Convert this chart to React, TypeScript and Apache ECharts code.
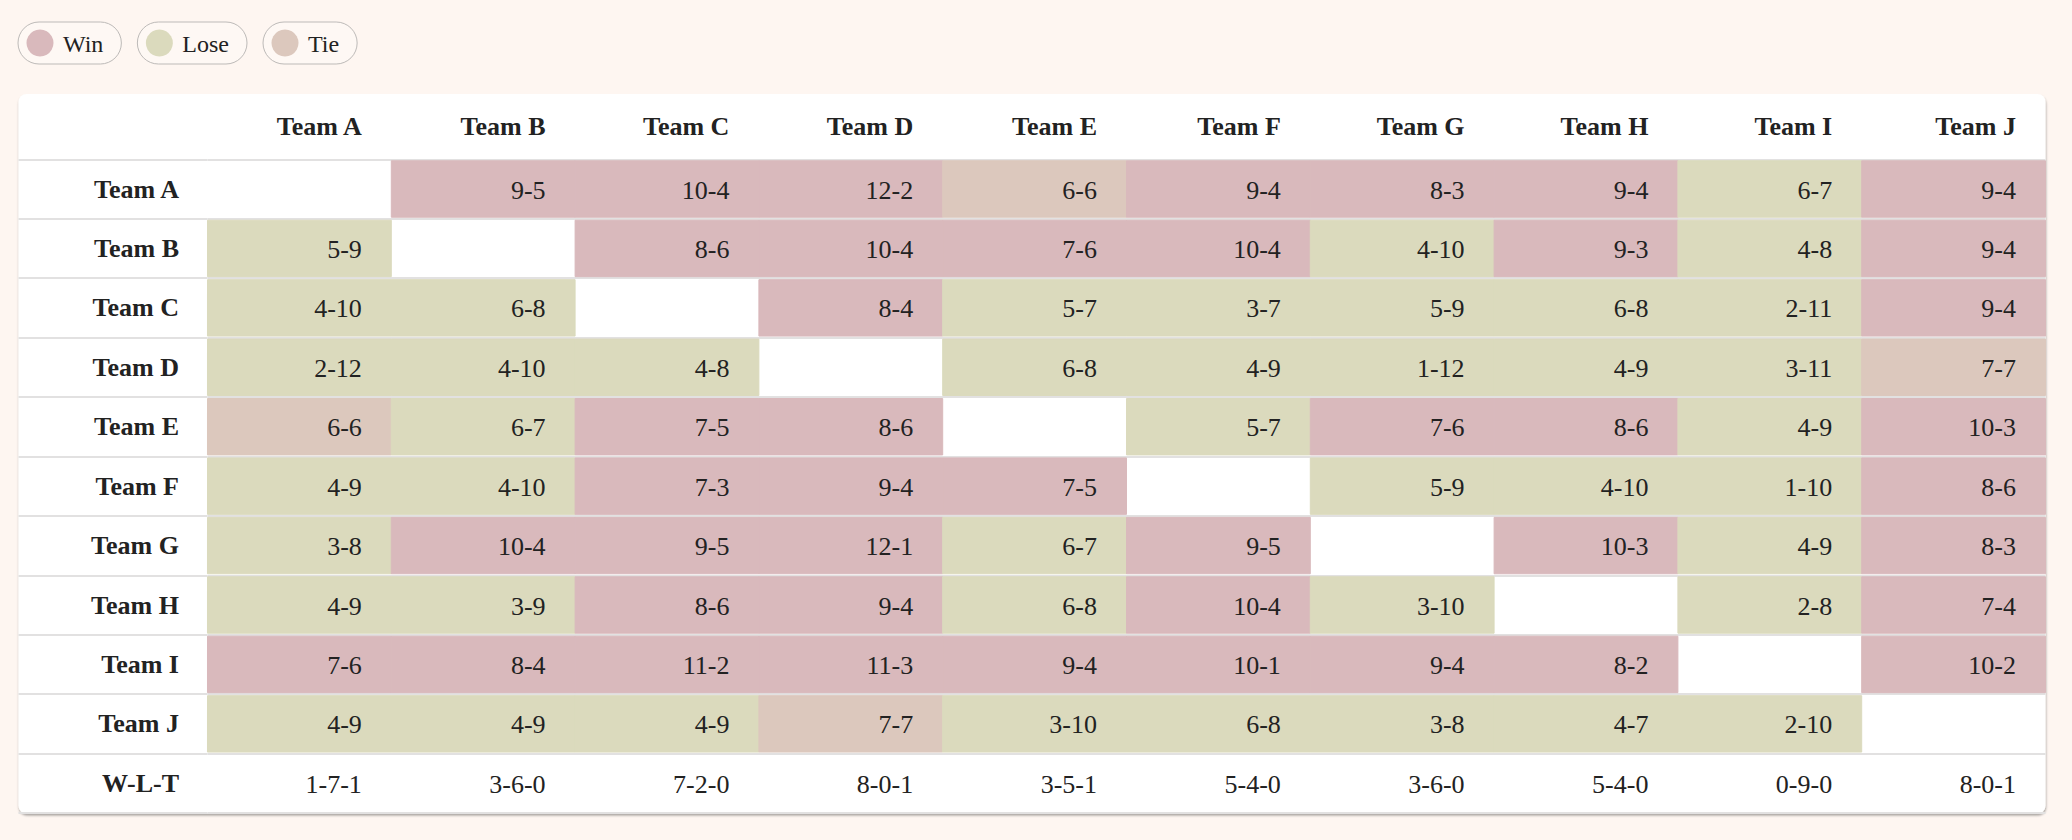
import React, { useEffect, useRef } from "react";
import * as echarts from "echarts";

// ---- data ----
const teams = ["Team A", "Team B", "Team C", "Team D", "Team E", "Team F", "Team G", "Team H", "Team I", "Team J"];
const totalRowLabel = "W-L-T";

const teamARecords = [null, "9-5", "10-4", "12-2", "6-6", "9-4", "8-3", "9-4", "6-7", "9-4"];
const teamBRecords = ["5-9", null, "8-6", "10-4", "7-6", "10-4", "4-10", "9-3", "4-8", "9-4"];
const teamCRecords = ["4-10", "6-8", null, "8-4", "5-7", "3-7", "5-9", "6-8", "2-11", "9-4"];
const teamDRecords = ["2-12", "4-10", "4-8", null, "6-8", "4-9", "1-12", "4-9", "3-11", "7-7"];
const teamERecords = ["6-6", "6-7", "7-5", "8-6", null, "5-7", "7-6", "8-6", "4-9", "10-3"];
const teamFRecords = ["4-9", "4-10", "7-3", "9-4", "7-5", null, "5-9", "4-10", "1-10", "8-6"];
const teamGRecords = ["3-8", "10-4", "9-5", "12-1", "6-7", "9-5", null, "10-3", "4-9", "8-3"];
const teamHRecords = ["4-9", "3-9", "8-6", "9-4", "6-8", "10-4", "3-10", null, "2-8", "7-4"];
const teamIRecords = ["7-6", "8-4", "11-2", "11-3", "9-4", "10-1", "9-4", "8-2", null, "10-2"];
const teamJRecords = ["4-9", "4-9", "4-9", "7-7", "3-10", "6-8", "3-8", "4-7", "2-10", null];
const wltTotals = ["1-7-1", "3-6-0", "7-2-0", "8-0-1", "3-5-1", "5-4-0", "3-6-0", "5-4-0", "0-9-0", "8-0-1"];

const records = [
  teamARecords, teamBRecords, teamCRecords, teamDRecords, teamERecords,
  teamFRecords, teamGRecords, teamHRecords, teamIRecords, teamJRecords,
];

const resultNames = ["Win", "Lose", "Tie"];
const resultColors: Record<string, string> = { Win: "#d9b9bc", Lose: "#dbdabd", Tie: "#dcc8bd" };

// ---- styles / layout ----
const FONT = "'Liberation Serif', 'DejaVu Serif', serif";
const TEXT = "#222222";
const BG = "#fef6f1";
const LINE = "#e2e1e1";
const CARD = { left: 18.5, top: 94, right: 2045.5, bottom: 813.5 };
const GRID = { left: 207.5, top: 159.3, right: 2072 - 2045.5, bottom: 840 - 813 };
const CELL_PAD = 29.5;
const FS = 26;

function resultOf(rec: string): string {
  const [a, b] = rec.split("-").map(Number);
  return a > b ? "Win" : a < b ? "Lose" : "Tie";
}

export default function App() {
  const ref = useRef<HTMLDivElement>(null);

  useEffect(() => {
    document.body.style.margin = "0";
    document.body.style.background = BG;
    const chart = echarts.init(ref.current!, undefined, { renderer: "svg" });

    const cells: { value: [number, number]; text: string; kind: string }[] = [];
    records.forEach((row, r) => {
      row.forEach((rec, c) => {
        if (rec) cells.push({ value: [c, r], text: rec, kind: resultOf(rec) });
      });
    });
    wltTotals.forEach((t, c) => cells.push({ value: [c, teams.length], text: t, kind: "total" }));

    const gridWidth = 2072 - GRID.left - GRID.right;
    const colW = gridWidth / teams.length;

    // legend pills
    const ctx = document.createElement("canvas").getContext("2d")!;
    ctx.font = `24px ${FONT}`;
    const legendEls: any[] = [];
    let lx = 18;
    resultNames.forEach((name) => {
      const tw = ctx.measureText(name).width;
      const w = tw + 63;
      legendEls.push(
        { type: "rect", shape: { x: lx, y: 22, width: w, height: 42, r: 21 }, style: { fill: "rgba(255,255,255,0.25)", stroke: "#bdbab8", lineWidth: 1 } },
        { type: "circle", shape: { cx: lx + 22, cy: 43, r: 13.5 }, style: { fill: resultColors[name] } },
        { type: "text", x: lx + 45, y: 44, style: { text: name, fill: TEXT, font: `24px ${FONT}`, fontSize: 24, fontFamily: FONT, align: "left", verticalAlign: "middle", textAlign: "left", textVerticalAlign: "middle" } }
      );
      lx += w + 16;
    });

    chart.setOption({
      animation: false,
      backgroundColor: BG,
      graphic: [
        {
          type: "rect",
          z: -10,
          shape: { x: CARD.left, y: CARD.top, width: CARD.right - CARD.left, height: CARD.bottom - CARD.top, r: 8 },
          style: { fill: "#ffffff", shadowBlur: 2, shadowOffsetY: 2, shadowOffsetX: 0.5, shadowColor: "rgba(0,0,0,0.35)" },
        },
        ...legendEls,
      ],
      grid: { left: GRID.left, top: GRID.top, right: GRID.right, bottom: GRID.bottom, containLabel: false },
      xAxis: {
        type: "category",
        data: teams,
        position: "top",
        axisLine: { show: false },
        axisTick: { show: false },
        splitLine: { show: false },
        axisLabel: {
          interval: 0,
          margin: 32.5,
          verticalAlign: "middle",
          formatter: (v: string) => `{h|${v}}`,
          rich: {
            h: { width: colW - 2 * CELL_PAD, align: "right", fontSize: FS, fontWeight: "bold", fontFamily: FONT, color: TEXT },
          },
        },
      },
      yAxis: {
        type: "category",
        data: [...teams, totalRowLabel],
        inverse: true,
        axisLine: { show: false },
        axisTick: { show: true, interval: 0, length: GRID.left - CARD.left, lineStyle: { color: LINE, width: 2 } },
        splitLine: { show: true, interval: 0, lineStyle: { color: LINE, width: 2 } },
        axisLabel: { interval: 0, margin: 28.5, fontSize: FS, fontWeight: "bold", fontFamily: FONT, color: TEXT },
      },
      series: [
        {
          type: "custom",
          coordinateSystem: "cartesian2d",
          encode: { x: 0, y: 1 },
          data: cells.map((c) => c.value),
          renderItem: (params: any, api: any) => {
            const cell = cells[params.dataIndex];
            const center = api.coord([api.value(0), api.value(1)]);
            const size = api.size([1, 1]);
            const left = center[0] - size[0] / 2;
            const top = center[1] - size[1] / 2;
            const children: any[] = [];
            if (cell.kind !== "total") {
              const col = resultColors[cell.kind];
              children.push({
                type: "rect",
                shape: { x: left, y: top + 1.5, width: size[0], height: size[1] - 3 },
                style: { fill: col, stroke: col, lineWidth: 1 },
              });
            }
            children.push({
              type: "text",
              x: left + size[0] - CELL_PAD,
              y: center[1] + 1,
              style: {
                text: cell.text,
                fill: TEXT,
                font: `${FS}px ${FONT}`,
                fontSize: FS,
                fontFamily: FONT,
                align: "right",
                verticalAlign: "middle",
                textAlign: "right",
                textVerticalAlign: "middle",
              },
            });
            return { type: "group", children };
          },
        },
      ],
    });

    return () => chart.dispose();
  }, []);

  return <div ref={ref} style={{ position: "fixed", left: 0, top: 0, width: 2072, height: 840 }} />;
}
